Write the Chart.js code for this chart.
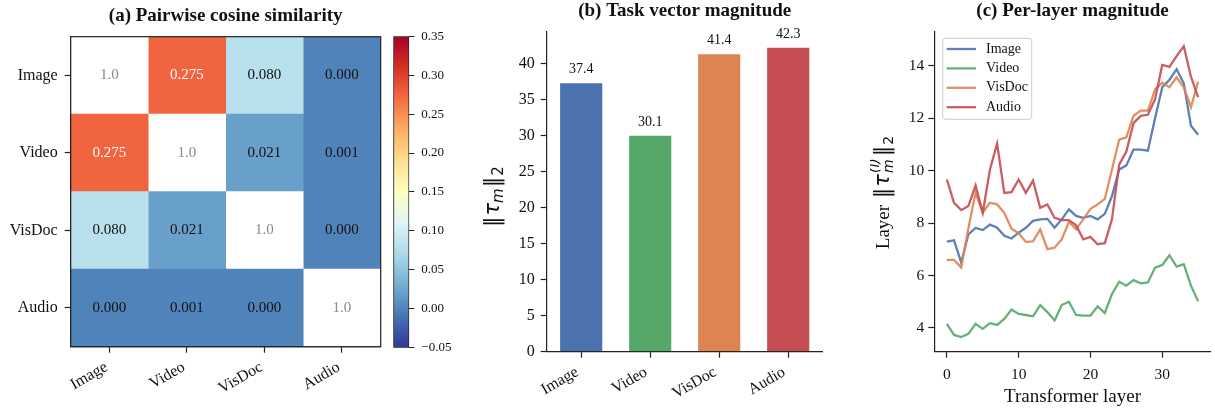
<!DOCTYPE html>
<html>
<head>
<meta charset="utf-8">
<script src="https://cdn.jsdelivr.net/npm/chart.js@4.4.1/dist/chart.umd.min.js"></script>
<style>
    html, body { margin: 0; padding: 0; background: #fff; }
    #wrap { position: relative; width: 1215px; height: 412px; overflow: hidden; }
    canvas { position: absolute; top: 0; }
</style>
</head>
<body>
<div id="wrap">
    <canvas id="heat" width="390" height="412" style="left:0px"></canvas>
    <canvas id="cbar" width="90" height="412" style="left:380px"></canvas>
    <canvas id="bars" width="400" height="412" style="left:470px"></canvas>
    <canvas id="lines" width="345" height="412" style="left:870px"></canvas>
</div>
<script>
const modalities = ['Image', 'Video', 'VisDoc', 'Audio'];

// (a) pairwise cosine similarity, one row per modality
const simImage  = [1.0, 0.275, 0.080, 0.000];
const simVideo  = [0.275, 1.0, 0.021, 0.001];
const simVisDoc = [0.080, 0.021, 1.0, 0.000];
const simAudio  = [0.000, 0.001, 0.000, 1.0];
const simRows = [simImage, simVideo, simVisDoc, simAudio];

const cbarMin = -0.05;
const cbarMax = 0.35;
const cbarTicks = [-0.05, 0.00, 0.05, 0.10, 0.15, 0.20, 0.25, 0.30, 0.35];

// (b) task vector magnitude
const magnitudes = [37.4, 30.1, 41.4, 42.3];
const magTicks = [0, 5, 10, 15, 20, 25, 30, 35, 40];

// (c) per-layer magnitude
const layers = Array.from({length: 36}, (_, i) => i);
const layerImage  = [7.29, 7.34, 6.49, 7.57, 7.81, 7.73, 7.94, 7.82, 7.51, 7.41, 7.63, 7.82, 8.08, 8.14, 8.16, 7.82, 8.14, 8.52, 8.27, 8.20, 8.27, 8.14, 8.35, 9.03, 10.04, 10.20, 10.80, 10.80, 10.76, 12.00, 13.18, 13.46, 13.87, 13.33, 11.71, 11.37];
const layerVideo  = [4.15, 3.73, 3.65, 3.77, 4.15, 3.96, 4.18, 4.11, 4.34, 4.70, 4.53, 4.49, 4.44, 4.87, 4.60, 4.28, 4.87, 5.00, 4.49, 4.47, 4.47, 4.82, 4.57, 5.29, 5.76, 5.61, 5.82, 5.70, 5.73, 6.30, 6.40, 6.77, 6.34, 6.43, 5.61, 5.01];
const layerVisDoc = [6.59, 6.59, 6.30, 7.80, 9.15, 8.40, 8.77, 8.71, 8.39, 7.78, 7.61, 7.28, 7.30, 7.76, 7.00, 7.06, 7.38, 8.04, 7.76, 8.14, 8.54, 8.71, 8.92, 10.04, 11.18, 11.27, 12.09, 12.29, 12.29, 13.10, 13.35, 13.18, 13.56, 13.18, 12.42, 13.39];
const layerAudio  = [9.66, 8.77, 8.49, 8.65, 9.43, 8.39, 10.04, 11.03, 9.15, 9.18, 9.66, 9.15, 9.62, 8.58, 8.71, 8.20, 8.11, 8.11, 7.91, 7.38, 7.47, 7.19, 7.23, 8.14, 10.23, 10.73, 11.81, 12.09, 12.13, 12.72, 14.03, 13.96, 14.37, 14.75, 13.58, 12.80];
const layerTicksX = [0, 10, 20, 30];
const layerTicksY = [4, 6, 8, 10, 12, 14];

const deep = ['#4C72B0', '#55A868', '#DD8452', '#C44E52'];
const serif = '"Liberation Serif", "Times New Roman", serif';
const ink = '#111';
const spine = '#222';

// RdYlBu reversed
const rdylbuR = ['#313695', '#4575b4', '#74add1', '#abd9e9', '#e0f3f8', '#ffffbf', '#fee090', '#fdae61', '#f46d43', '#d73027', '#a50026'];

function hexToRgb(h) {
    const n = parseInt(h.slice(1), 16);
    return [(n >> 16) & 255, (n >> 8) & 255, n & 255];
}

function withAlpha(h, a) {
    const [r, g, b] = hexToRgb(h);
    return `rgba(${r},${g},${b},${a})`;
}

function cmap(v) {
    let t = (v - cbarMin) / (cbarMax - cbarMin);
    t = Math.min(1, Math.max(0, t));
    const pos = t * (rdylbuR.length - 1);
    const i = Math.min(Math.floor(pos), rdylbuR.length - 2);
    const f = pos - i;
    const a = hexToRgb(rdylbuR[i]);
    const b = hexToRgb(rdylbuR[i + 1]);
    const c = a.map((x, k) => Math.round(x + (b[k] - x) * f));
    return `rgb(${c[0]},${c[1]},${c[2]})`;
}

function fixedTicks(values) {
    return scale => { scale.ticks = values.map(v => ({value: v})); };
}

function drawTitle(chart, text) {
    const {ctx, chartArea} = chart;
    ctx.save();
    ctx.font = `bold 19px ${serif}`;
    ctx.fillStyle = ink;
    ctx.textAlign = 'center';
    ctx.textBaseline = 'middle';
    ctx.fillText(text, (chartArea.left + chartArea.right) / 2, chartArea.top - 21);
    ctx.restore();
}

// rotated axis label built from pieces (for the norm subscripts)
function drawRotatedParts(ctx, cx, cy, parts) {
    ctx.save();
    ctx.translate(cx, cy);
    ctx.rotate(-Math.PI / 2);
    ctx.textBaseline = 'middle';
    ctx.textAlign = 'left';
    ctx.fillStyle = ink;
    const w = parts.map(p => { ctx.font = p.font; return ctx.measureText(p.text).width; });
    const pos = [];
    let x = 0;
    let i = 0;
    while (i < parts.length) {
        if (parts[i].stack) {
            pos[i] = x;
            pos[i + 1] = x;
            x += Math.max(w[i], w[i + 1]) + (parts[i + 1].gap || 0);
            i += 2;
        } else {
            pos[i] = x;
            x += w[i] + (parts[i].gap || 0);
            i++;
        }
    }
    parts.forEach((p, k) => {
        ctx.font = p.font;
        ctx.fillText(p.text, pos[k] - x / 2, p.dy || 0);
    });
    ctx.restore();
}

const tickGrid = {drawOnChartArea: false, drawTicks: true, tickLength: 6, tickColor: spine, tickWidth: 1.2, offset: false};
const spineBorder = {display: true, color: spine, width: 1.2};

// ---------- (a) heatmap ----------
const heatDatasets = modalities.map((col, c) => ({
    label: col,
    data: simRows.map(() => [c, c + 1]),
    backgroundColor: simRows.map((row, r) => r === c ? '#ffffff' : cmap(row[c])),
    borderWidth: 0,
    barPercentage: 1,
    categoryPercentage: 1,
    grouped: false
}));

new Chart(document.getElementById('heat'), {
    type: 'bar',
    data: {labels: modalities, datasets: heatDatasets},
    options: {
        indexAxis: 'y',
        responsive: false,
        animation: false,
        events: [],
        layout: {padding: {top: 36.7, right: 9.3, left: 0, bottom: 0}},
        plugins: {legend: {display: false}, tooltip: {enabled: false}},
        scales: {
            x: {
                type: 'linear', min: 0, max: modalities.length,
                afterBuildTicks: fixedTicks(modalities.map((_, i) => i + 0.5)),
                grid: tickGrid, border: spineBorder,
                ticks: {
                    callback: (v, i) => modalities[i],
                    font: {family: serif, size: 16}, color: ink,
                    minRotation: 30, maxRotation: 30, autoSkip: false, padding: 5, labelOffset: -3
                },
                afterFit: s => { s.height = 65.3; }
            },
            y: {
                type: 'category', offset: true,
                grid: tickGrid, border: spineBorder,
                ticks: {font: {family: serif, size: 16}, color: ink, padding: 7},
                afterFit: s => { s.width = 70.7; }
            }
        }
    },
    plugins: [{
        id: 'heatText',
        afterDatasetsDraw(chart) {
            const {ctx, chartArea, scales} = chart;
            ctx.save();
            ctx.font = `15px ${serif}`;
            ctx.textAlign = 'center';
            ctx.textBaseline = 'middle';
            simRows.forEach((row, r) => {
                row.forEach((v, c) => {
                    const x = scales.x.getPixelForValue(c + 0.5);
                    const y = scales.y.getPixelForValue(r);
                    if (r === c) {
                        ctx.fillStyle = '#8a8a8a';
                        ctx.fillText(v.toFixed(1), x, y);
                    } else {
                        ctx.fillStyle = v > 0.2 ? '#ffffff' : ink;
                        ctx.fillText(v.toFixed(3), x, y);
                    }
                });
            });
            ctx.strokeStyle = spine;
            ctx.lineWidth = 1.2;
            ctx.strokeRect(chartArea.left, chartArea.top, chartArea.right - chartArea.left, chartArea.bottom - chartArea.top);
            ctx.restore();
            drawTitle(chart, '(a) Pairwise cosine similarity');
        }
    }]
});

// ---------- (a) colorbar ----------
new Chart(document.getElementById('cbar'), {
    type: 'bar',
    data: {
        labels: [''],
        datasets: [{
            data: [[cbarMin, cbarMax]],
            backgroundColor: ctx => {
                const {chart} = ctx;
                if (!chart.chartArea) return rdylbuR[0];
                const y = chart.scales.y;
                const g = chart.ctx.createLinearGradient(0, y.getPixelForValue(cbarMin), 0, y.getPixelForValue(cbarMax));
                rdylbuR.forEach((c, i) => g.addColorStop(i / (rdylbuR.length - 1), c));
                return g;
            },
            borderColor: spine,
            borderWidth: 1.2,
            borderSkipped: false,
            barPercentage: 1,
            categoryPercentage: 1
        }]
    },
    options: {
        responsive: false,
        animation: false,
        events: [],
        layout: {padding: {top: 36.3, left: 13.3, right: 0, bottom: 0}},
        plugins: {legend: {display: false}, tooltip: {enabled: false}},
        scales: {
            x: {display: false, afterFit: s => { s.height = 64.3; }},
            y: {
                position: 'right', min: cbarMin, max: cbarMax,
                afterBuildTicks: fixedTicks(cbarTicks),
                grid: {drawOnChartArea: false, drawTicks: true, tickLength: 5, tickColor: spine, tickWidth: 1},
                border: {display: false},
                ticks: {
                    callback: v => v.toFixed(2).replace('-', '\u2212'),
                    font: {family: serif, size: 13}, color: ink, padding: 7
                },
                afterFit: s => { s.width = 60.7; }
            }
        }
    }
});

// ---------- (b) bar chart ----------
new Chart(document.getElementById('bars'), {
    type: 'bar',
    data: {
        labels: modalities,
        datasets: [{
            data: magnitudes,
            backgroundColor: deep,
            borderColor: 'rgba(255,255,255,0.6)',
            borderWidth: 1,
            barPercentage: 0.64,
            categoryPercentage: 1
        }]
    },
    options: {
        responsive: false,
        animation: false,
        events: [],
        layout: {padding: {top: 31.7, right: 47.3, left: 0, bottom: 0}},
        plugins: {legend: {display: false}, tooltip: {enabled: false}},
        scales: {
            x: {
                grid: tickGrid, border: spineBorder,
                ticks: {font: {family: serif, size: 16}, color: ink, minRotation: 30, maxRotation: 30, padding: 5, labelOffset: -4},
                afterFit: s => { s.height = 60.3; }
            },
            y: {
                min: 0, max: 44.4,
                afterBuildTicks: fixedTicks(magTicks),
                grid: tickGrid, border: spineBorder,
                ticks: {font: {family: serif, size: 16}, color: ink, padding: 6},
                afterFit: s => { s.width = 76.7; }
            }
        }
    },
    plugins: [{
        id: 'barText',
        afterDatasetsDraw(chart) {
            const {ctx} = chart;
            const meta = chart.getDatasetMeta(0);
            ctx.save();
            ctx.font = `14px ${serif}`;
            ctx.fillStyle = ink;
            ctx.textAlign = 'center';
            ctx.textBaseline = 'alphabetic';
            meta.data.forEach((bar, i) => {
                ctx.fillText(magnitudes[i].toFixed(1), bar.x, bar.y - 9);
            });
            ctx.restore();
            drawTitle(chart, '(b) Task vector magnitude');
            drawRotatedParts(ctx, 24, 196.7, [
                {text: '\u2016', font: '21px "DejaVu Sans"', gap: 1},
                {text: '\u03c4', font: 'italic 21px "DejaVu Sans"'},
                {text: 'm', font: 'italic 15px "DejaVu Sans"', dy: 5, gap: 1},
                {text: '\u2016', font: '21px "DejaVu Sans"', gap: 1},
                {text: '2', font: '15px "DejaVu Sans"', dy: 5}
            ]);
        }
    }]
});

// ---------- (c) per-layer lines ----------
const lineSeries = [layerImage, layerVideo, layerVisDoc, layerAudio];

new Chart(document.getElementById('lines'), {
    type: 'line',
    data: {
        datasets: modalities.map((m, i) => ({
            label: m,
            data: lineSeries[i].map((v, j) => ({x: layers[j], y: v})),
            borderColor: withAlpha(deep[i], 0.9),
            borderWidth: 2.3,
            pointRadius: 0,
            tension: 0,
            fill: false,
            order: modalities.length - 1 - i
        }))
    },
    options: {
        responsive: false,
        animation: false,
        events: [],
        layout: {padding: {top: 31.7, right: 4.3, left: 0, bottom: 0}},
        plugins: {legend: {display: false}, tooltip: {enabled: false}},
        scales: {
            x: {
                type: 'linear', min: -1.75, max: 36.75,
                afterBuildTicks: fixedTicks(layerTicksX),
                grid: tickGrid, border: spineBorder,
                ticks: {font: {family: serif, size: 15.5}, color: ink, padding: 8},
                afterFit: s => { s.height = 60.3; }
            },
            y: {
                min: 3.09, max: 15.3,
                afterBuildTicks: fixedTicks(layerTicksY),
                grid: tickGrid, border: spineBorder,
                ticks: {font: {family: serif, size: 15.5}, color: ink, padding: 4},
                afterFit: s => { s.width = 64.3; }
            }
        }
    },
    plugins: [{
        id: 'lineDecor',
        afterDraw(chart) {
            const {ctx, chartArea} = chart;
            // legend box in the upper left of the axes
            const bx = chartArea.left + 8.4;
            const by = chartArea.top + 6.6;
            ctx.save();
            ctx.beginPath();
            ctx.roundRect(bx, by, 89, 81, 3);
            ctx.fillStyle = 'rgba(255,255,255,0.8)';
            ctx.fill();
            ctx.strokeStyle = '#cccccc';
            ctx.lineWidth = 1;
            ctx.stroke();
            ctx.font = `14px ${serif}`;
            ctx.textBaseline = 'middle';
            ctx.textAlign = 'left';
            chart.data.datasets.forEach((ds, i) => {
                const y = by + 10.7 + i * 19.4;
                ctx.strokeStyle = ds.borderColor;
                ctx.lineWidth = ds.borderWidth;
                ctx.beginPath();
                ctx.moveTo(bx + 4, y);
                ctx.lineTo(bx + 33.3, y);
                ctx.stroke();
                ctx.fillStyle = ink;
                ctx.fillText(ds.label, bx + 43.3, y);
            });
            ctx.font = `19px ${serif}`;
            ctx.textAlign = 'center';
            ctx.fillText('Transformer layer', (chartArea.left + chartArea.right) / 2, 396.7);
            ctx.restore();
            drawTitle(chart, '(c) Per-layer magnitude');
            drawRotatedParts(ctx, 14, 192.5, [
                {text: 'Layer ', font: `19px ${serif}`, gap: 2},
                {text: '\u2016', font: '21px "DejaVu Sans"', gap: 1},
                {text: '\u03c4', font: 'italic 21px "DejaVu Sans"', gap: 1},
                {text: '(l)', font: 'italic 14px "DejaVu Sans"', dy: -9, stack: true},
                {text: 'm', font: 'italic 14px "DejaVu Sans"', dy: 5, gap: 2},
                {text: '\u2016', font: '21px "DejaVu Sans"', gap: 1},
                {text: '2', font: '14px "DejaVu Sans"', dy: 5}
            ]);
        }
    }]
});
</script>
</body>
</html>
